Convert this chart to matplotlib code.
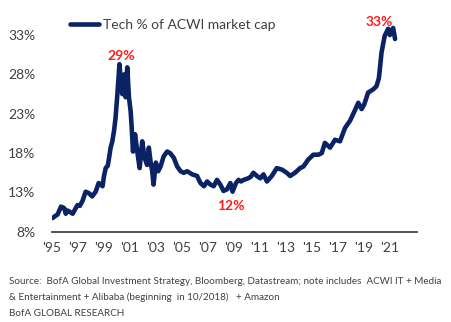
import matplotlib
matplotlib.use("Agg")
import matplotlib.pyplot as plt

# Tech share of ACWI market cap
years = [1995.05, 1995.25, 1995.44, 1995.7, 1995.85, 1995.95, 1996.07, 1996.2, 1996.33, 1996.6,
         1996.8, 1996.97, 1997.15, 1997.35, 1997.6, 1997.86, 1998.1, 1998.37, 1998.6, 1998.9,
         1999.0, 1999.14, 1999.3, 1999.4, 1999.52, 1999.65, 1999.78, 1999.9, 2000.04, 2000.2,
         2000.3, 2000.42, 2000.55, 2000.67, 2000.8, 2000.93, 2001.06, 2001.15, 2001.24, 2001.4,
         2001.57, 2001.75, 2001.95, 2002.13, 2002.33, 2002.46, 2002.6, 2002.72, 2002.82, 2003.0,
         2003.18, 2003.36, 2003.6, 2003.87, 2004.1, 2004.38, 2004.64, 2004.9, 2005.15, 2005.4,
         2005.8, 2006.17, 2006.43, 2006.7, 2006.94, 2007.2, 2007.45, 2007.7, 2007.96, 2008.2,
         2008.47, 2008.73, 2008.9, 2009.16, 2009.36, 2009.55, 2009.75, 2010.1, 2010.3, 2010.5,
         2010.77, 2011.03, 2011.28, 2011.54, 2011.92, 2012.3, 2012.7, 2013.07, 2013.33, 2013.7,
         2014.1, 2014.35, 2014.73, 2015.12, 2015.5, 2015.76, 2016.0, 2016.4, 2016.78, 2017.16,
         2017.55, 2017.93, 2018.3, 2018.57, 2018.83, 2019.03, 2019.33, 2019.72, 2019.97, 2020.15,
         2020.23, 2020.36, 2020.6, 2020.87, 2021.0, 2021.1, 2021.25, 2021.4]
tech_pct = [9.75, 10.0, 10.2, 11.2, 11.1, 11.0, 10.3, 10.7, 10.6, 10.3,
            10.9, 11.4, 11.3, 11.9, 13.1, 12.9, 12.5, 13.1, 14.2, 13.8,
            15.0, 16.1, 16.4, 17.4, 18.7, 19.5, 20.8, 22.5, 25.5, 29.3,
            27.0, 25.5, 28.0, 25.1, 28.9, 25.1, 23.3, 21.0, 18.2, 20.4,
            18.2, 16.1, 19.5, 17.4, 16.5, 18.7, 16.8, 15.7, 14.0, 16.8,
            15.7, 16.3, 17.6, 18.2, 18.0, 17.4, 16.3, 15.7, 15.5, 15.7,
            15.3, 15.1, 14.2, 13.8, 14.4, 14.0, 13.8, 14.6, 14.0, 13.2,
            13.4, 14.2, 13.1, 14.2, 14.6, 14.4, 14.6, 14.8, 15.0, 15.5,
            15.1, 14.8, 15.3, 14.4, 15.1, 16.1, 15.9, 15.5, 15.1, 15.5,
            16.1, 16.3, 17.2, 17.8, 17.8, 18.0, 19.3, 18.7, 19.7, 19.5,
            21.2, 22.1, 23.4, 24.4, 23.6, 24.2, 25.7, 26.1, 26.5, 27.5,
            28.7, 30.8, 32.9, 33.8, 33.0, 33.4, 33.9, 32.5]

yticks = [8, 13, 18, 23, 28, 33]
xticks = list(range(1995, 2022, 2))
xlabels = ["'" + str(y)[2:] for y in xticks]

callouts = [("29%", 2000.3, 29.6, 'bottom'), ("12%", 2008.8, 12.0, 'top'),
            ("33%", 2020.2, 33.9, 'bottom')]

plt.rcParams['font.family'] = ['Lato', 'DejaVu Sans']

navy = '#0b2265'
grey = '#404040'

fig = plt.figure(figsize=(4.51, 3.22), dpi=100)
ax = fig.add_axes([0.115, 0.28, 0.81, 0.66])
ax.plot(years, tech_pct, color=navy, lw=3.3, solid_joinstyle='round',
        solid_capstyle='round', label='Tech % of ACWI market cap')

ax.set_xlim(1995, 2023.1)
ax.set_ylim(8, 35)
ax.set_yticks(yticks)
ax.set_yticklabels([f"{v}%" for v in yticks])
ax.set_xticks(xticks)
ax.set_xticklabels(xlabels)
ax.tick_params(length=0, labelsize=10, colors=grey)
ax.tick_params(axis='y', pad=12)
ax.tick_params(axis='x', pad=7)
for s in ['top', 'right', 'left']:
    ax.spines[s].set_visible(False)
ax.spines['bottom'].set_color('#333333')
ax.spines['bottom'].set_linewidth(1.2)

for txt, x, y, va in callouts:
    ax.text(x, y, txt, color='#ff1a1a', fontsize=10, fontweight='bold',
            ha='center', va=va)

leg = ax.legend(loc='upper left', bbox_to_anchor=(0.015, 1.06), frameon=False,
                fontsize=10, handlelength=2.1, handletextpad=0.3)
for t in leg.get_texts():
    t.set_color(grey)

foot = ["Source:  BofA Global Investment Strategy, Bloomberg, Datastream; note includes  ACWI IT + Media",
        "& Entertainment + Alibaba (beginning  in 10/2018)   + Amazon",
        "BofA GLOBAL RESEARCH"]
for i, line in enumerate(foot):
    fig.text(0.02, 1 - (281 + 16 * i) / 322, line, fontsize=7.1, color=grey, va='center')

fig.savefig('out.png', dpi=100)
